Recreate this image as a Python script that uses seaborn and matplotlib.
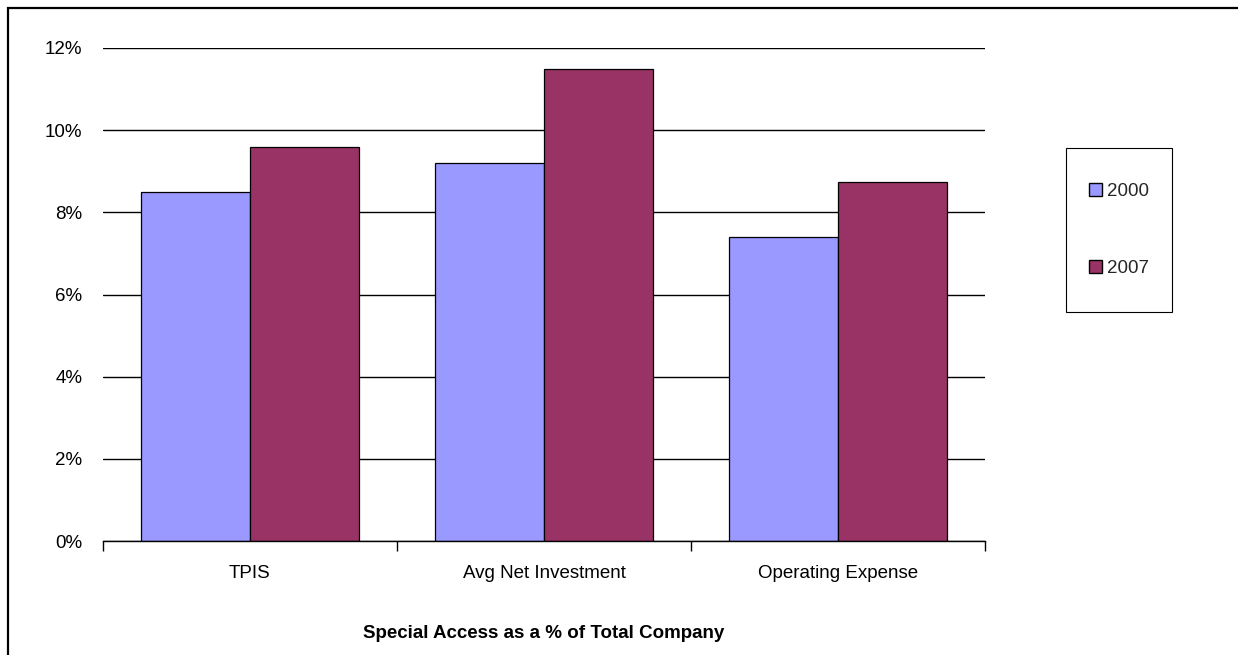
import matplotlib
matplotlib.use("Agg")
import matplotlib.pyplot as plt
from matplotlib.patches import Rectangle
from matplotlib.ticker import PercentFormatter, FixedLocator
import seaborn as sns
import pandas as pd

categories = ["TPIS", "Avg Net Investment", "Operating Expense"]
series_names = ["2000", "2007"]
values_2000 = [0.085, 0.092, 0.074]
values_2007 = [0.096, 0.115, 0.0875]
y_ticks = [0.0, 0.02, 0.04, 0.06, 0.08, 0.10, 0.12]
x_title = "Special Access as a % of Total Company"
colors = ["#9999FF", "#993366"]

df = pd.DataFrame({
    "category": categories * 2,
    "year": [series_names[0]] * 3 + [series_names[1]] * 3,
    "value": values_2000 + values_2007,
})

sns.set_theme(style="white")
plt.rcParams["font.family"] = ["Liberation Sans", "DejaVu Sans"]

W, H = 1238, 655
fig = plt.figure(figsize=(W / 100, H / 100), dpi=100)
fig.patch.set_facecolor("white")

ax_l, ax_r, ax_t, ax_b = 103, 985, 48, 541
ax = fig.add_axes([ax_l / W, 1 - ax_b / H, (ax_r - ax_l) / W, (ax_b - ax_t) / H])

sns.barplot(data=df, x="category", y="value", hue="year", order=categories,
            hue_order=series_names, palette=colors, width=0.74, saturation=1,
            edgecolor="black", linewidth=0.9, ax=ax, legend=True, zorder=3)

ax.set_ylim(0, 0.12)
ax.set_xlim(-0.5, 2.5)
ax.set_yticks(y_ticks)
ax.yaxis.set_major_formatter(PercentFormatter(1.0, decimals=0))
ax.yaxis.grid(True, color="black", linewidth=1)
ax.xaxis.grid(False)
ax.set_axisbelow(True)
for s in ["left", "top", "right"]:
    ax.spines[s].set_visible(False)
ax.spines["bottom"].set_color("black")
ax.spines["bottom"].set_linewidth(1)
ax.spines["bottom"].set_zorder(5)

ax.tick_params(axis="y", length=0, pad=15, labelsize=13.5, labelcolor="black")
ax.tick_params(axis="x", which="major", length=0, pad=17, labelsize=13.5, labelcolor="black")
ax.xaxis.set_minor_locator(FixedLocator([-0.5, 0.5, 1.5, 2.5]))
ax.tick_params(axis="x", which="minor", length=7, width=1, color="black", direction="out", bottom=True)
ax.set_xlabel("")
ax.set_ylabel("")

# legend
handles, labels = ax.get_legend_handles_labels()
ax.get_legend().remove()
leg = fig.legend(handles, labels, loc="center",
                 bbox_to_anchor=(1119 / W, 1 - 230 / H),
                 frameon=False, fontsize=13.5, handlelength=0.7, handleheight=0.7,
                 handletextpad=0.3, labelspacing=3.2, borderpad=0)
for h in leg.legend_handles:
    h.set_edgecolor("black")
    h.set_linewidth(1)
fig.patches.append(Rectangle((1066 / W, 1 - 312 / H), (1172 - 1066) / W, (312 - 148) / H,
                             transform=fig.transFigure, fill=False, edgecolor="black",
                             linewidth=0.8, figure=fig))

# title below axis
fig.text(544 / W, 1 - 634 / H, x_title, ha="center", va="center",
         fontsize=13.5, fontweight="bold", color="black")

# outer border
fig.patches.append(Rectangle((8 / W, -0.1), 1.2, 1.1 - 8 / H, transform=fig.transFigure,
                             fill=False, edgecolor="black", linewidth=1.6, figure=fig,
                             clip_on=False))

fig.savefig("out.png", dpi=100, facecolor="white")
